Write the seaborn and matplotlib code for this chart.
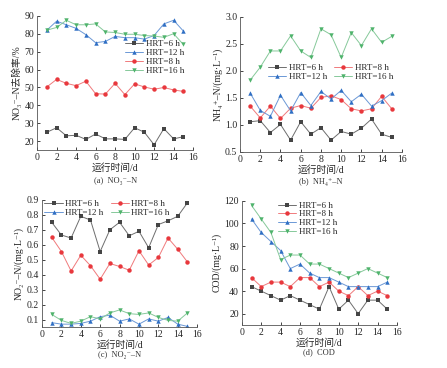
import numpy as np
import pandas as pd
import seaborn as sns
import matplotlib.pyplot as plt

sns.set_style("ticks")
plt.rcParams["font.family"] = ["Liberation Serif", "DejaVu Serif", "Noto Sans CJK SC"]
plt.rcParams["axes.unicode_minus"] = False

days = list(range(1, 16))
hrt_labels = ["HRT=6 h", "HRT=8 h", "HRT=12 h", "HRT=16 h"]

# (a) NO3- removal rate, %
no3_removal = {
    "HRT=6 h": [25, 27.5, 23, 23.3, 21, 24, 21.3, 21.3, 21, 27.5, 25, 18, 27, 21.3, 22.5],
    "HRT=8 h": [50.3, 54.5, 52.3, 51, 53.5, 46.5, 46.3, 52.3, 46, 52, 50.3, 49, 50, 48.6, 47.8],
    "HRT=12 h": [82, 87, 85, 83, 79.5, 75, 75.7, 78.5, 77.8, 77.8, 77, 79, 85.5, 87.5, 81.5],
    "HRT=16 h": [82, 83.5, 87.5, 85, 85, 85.5, 81, 80.7, 79.7, 79.7, 79, 78.7, 78, 80, 74],
}
# (b) NH4+-N, mg/L
nh4 = {
    "HRT=6 h": [1.06, 1.08, 0.86, 1.01, 0.72, 1.06, 0.83, 0.95, 0.72, 0.88, 0.83, 0.94, 1.11, 0.83, 0.77],
    "HRT=8 h": [1.35, 1.13, 1.35, 1.12, 1.31, 1.36, 1.31, 1.51, 1.54, 1.47, 1.30, 1.26, 1.30, 1.53, 1.30],
    "HRT=12 h": [1.59, 1.27, 1.16, 1.55, 1.26, 1.60, 1.36, 1.62, 1.48, 1.64, 1.43, 1.57, 1.35, 1.45, 1.59],
    "HRT=16 h": [1.83, 2.07, 2.37, 2.37, 2.65, 2.37, 2.25, 2.78, 2.67, 2.25, 2.71, 2.47, 2.78, 2.53, 2.64],
}
# (c) NO2--N, mg/L
no2 = {
    "HRT=6 h": [0.75, 0.665, 0.645, 0.79, 0.765, 0.555, 0.70, 0.75, 0.66, 0.69, 0.58, 0.735, 0.76, 0.79, 0.88],
    "HRT=8 h": [0.65, 0.555, 0.425, 0.53, 0.46, 0.37, 0.475, 0.455, 0.43, 0.56, 0.465, 0.515, 0.645, 0.57, 0.485],
    "HRT=12 h": [0.08, 0.07, 0.07, 0.075, 0.09, 0.12, 0.13, 0.09, 0.105, 0.07, 0.105, 0.09, 0.115, 0.07, 0.055],
    "HRT=16 h": [0.135, 0.095, 0.075, 0.09, 0.12, 0.105, 0.145, 0.165, 0.14, 0.135, 0.145, 0.115, 0.095, 0.09, 0.145],
}
# (d) COD, mg/L
cod = {
    "HRT=6 h": [44, 40, 36, 32, 36, 32, 28, 24, 44, 24, 32, 20, 32, 32, 24],
    "HRT=8 h": [52, 44, 48, 48, 44, 52, 52, 44, 48, 40, 36, 44, 36, 40, 36],
    "HRT=12 h": [104, 92, 84, 76, 60, 64, 56, 52, 52, 48, 44, 44, 44, 44, 48],
    "HRT=16 h": [116, 104, 92, 68, 72, 72, 64, 64, 60, 56, 52, 56, 60, 56, 52],
}

palette = {"HRT=6 h": "#454545", "HRT=8 h": "#e8383d", "HRT=12 h": "#2f6fc4", "HRT=16 h": "#4fb36c"}
line_colors = {"HRT=6 h": "#6e6e6e", "HRT=8 h": "#f07a7c", "HRT=12 h": "#6b98d6", "HRT=16 h": "#86c99a"}
markers = {"HRT=6 h": "s", "HRT=8 h": "o", "HRT=12 h": "^", "HRT=16 h": "v"}
MS = 3.2


def to_long(series):
    rows = []
    for label, vals in series.items():
        for d, v in zip(days, vals):
            rows.append({"day": d, "value": v, "HRT": label})
    return pd.DataFrame(rows)


def draw_panel(ax, series, legend_order, ylim, yticks, ylabel, caption, legend_kw, yfmt):
    df = to_long(series)
    sns.lineplot(data=df, x="day", y="value", hue="HRT", style="HRT",
                 hue_order=hrt_labels, style_order=hrt_labels,
                 palette=palette, markers=markers, dashes=False,
                 markersize=MS, markeredgewidth=0, linewidth=0.7, ax=ax)
    for line, lab in zip(ax.lines, hrt_labels):
        line.set_color(line_colors[lab])
        line.set_markerfacecolor(palette[lab])
        line.set_markeredgecolor(palette[lab])
    ax.set_xlim(0, 16)
    ax.set_xticks(np.arange(0, 17, 2))
    ax.set_ylim(*ylim)
    ax.set_yticks(yticks)
    ax.set_yticklabels([yfmt.format(t) for t in yticks])
    ax.set_xlabel("运行时间/d", fontsize=7, labelpad=1)
    ax.set_ylabel(ylabel, fontsize=7, labelpad=2)
    ax.tick_params(labelsize=7, direction="in", length=2, width=0.6, pad=2)
    for s in ["left", "bottom"]:
        ax.spines[s].set_linewidth(0.6)
        ax.spines[s].set_color("#555555")
    sns.despine(ax=ax)
    handles, labels = ax.get_legend_handles_labels()
    hmap = dict(zip(labels, handles))
    for lab, h in hmap.items():
        h.set_color(line_colors[lab])
        h.set_markerfacecolor(palette[lab])
        h.set_markeredgecolor(palette[lab])
        h.set_markersize(MS)
    ax.legend([hmap[l] for l in legend_order], legend_order, frameon=False,
              fontsize=6.5, handlelength=2.0, handletextpad=0.3,
              labelspacing=0.05, borderpad=0.1, **legend_kw)
    ax.text(0.5, caption[1], caption[0], transform=ax.transAxes, ha="center",
            va="center", fontsize=6, color="#333333")


fig = plt.figure(figsize=(4.47, 3.68), dpi=100)
ax_a = fig.add_axes([0.083, 0.592, 0.349, 0.365])
ax_b = fig.add_axes([0.537, 0.587, 0.362, 0.367])
ax_c = fig.add_axes([0.094, 0.111, 0.347, 0.346])
ax_d = fig.add_axes([0.541, 0.117, 0.347, 0.337])

# two-column legends fill column by column, so 6/12 then 8/16 gives rows 6,8 / 12,16
two_col = ["HRT=6 h", "HRT=12 h", "HRT=8 h", "HRT=16 h"]

draw_panel(ax_a, no3_removal, ["HRT=6 h", "HRT=12 h", "HRT=8 h", "HRT=16 h"],
           (15, 90), np.arange(20, 91, 10), "NO₃⁻–N去除率/%",
           ("(a)  NO₃⁻–N", -0.23),
           dict(loc="upper left", bbox_to_anchor=(0.53, 0.86), ncol=1), "{:.0f}")
draw_panel(ax_b, nh4, two_col,
           (0.5, 3.0), np.arange(0.5, 3.01, 0.5), "NH₄⁺–N/(mg·L⁻¹)",
           ("(b)  NH₄⁺–N", -0.22),
           dict(loc="center", bbox_to_anchor=(0.56, 0.59), ncol=2, columnspacing=0.8), "{:.1f}")
draw_panel(ax_c, no2, two_col,
           (0.05, 0.9), np.arange(0.1, 0.91, 0.1), "NO₂⁻–N/(mg·L⁻¹)",
           ("(c)  NO₂⁻–N", -0.22),
           dict(loc="upper center", bbox_to_anchor=(0.42, 1.04), ncol=2, columnspacing=0.8), "{:.1f}")
draw_panel(ax_d, cod, hrt_labels,
           (10, 120), np.arange(20, 121, 20), "COD/(mg·L⁻¹)",
           ("(d)  COD", -0.22),
           dict(loc="upper left", bbox_to_anchor=(0.2, 1.04), ncol=1), "{:.0f}")

fig.savefig("out.png", dpi=100)
